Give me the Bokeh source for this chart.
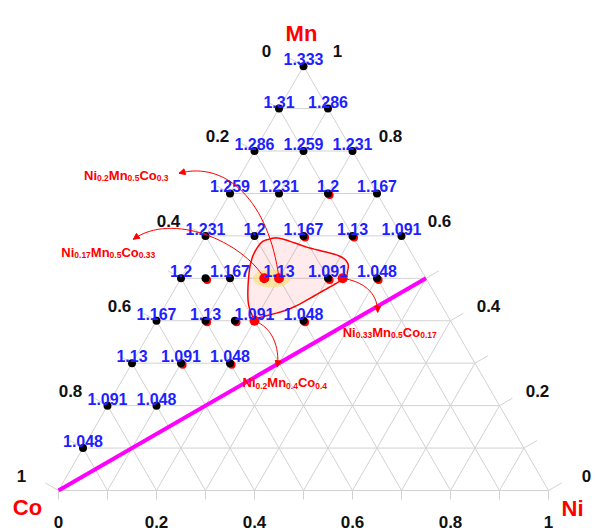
import math
import numpy as np
from bokeh.plotting import figure
from bokeh.models import ColumnDataSource, Arrow, NormalHead, Range1d
from bokeh.embed import file_html
from bokeh.resources import INLINE
from bokeh.core.properties import value

# ---------------- data ----------------
corner_names = ["Co", "Ni", "Mn"]

grid_mn = [1.0,
           0.9, 0.9,
           0.8, 0.8, 0.8,
           0.7, 0.7, 0.7, 0.7,
           0.6, 0.6, 0.6, 0.6, 0.6,
           0.5, 0.5, 0.5, 0.5, 0.5,
           0.4, 0.4, 0.4, 0.4,
           0.3, 0.3, 0.3,
           0.2, 0.2,
           0.1]
grid_ni = [0.0,
           0.0, 0.1,
           0.0, 0.1, 0.2,
           0.0, 0.1, 0.2, 0.3,
           0.0, 0.1, 0.2, 0.3, 0.4,
           0.0, 0.1, 0.2, 0.3, 0.4,
           0.0, 0.1, 0.2, 0.3,
           0.0, 0.1, 0.2,
           0.0, 0.1,
           0.0]
grid_label = ["1.333",
              "1.31", "1.286",
              "1.286", "1.259", "1.231",
              "1.259", "1.231", "1.2", "1.167",
              "1.231", "1.2", "1.167", "1.13", "1.091",
              "1.2", "1.167", "1.13", "1.091", "1.048",
              "1.167", "1.13", "1.091", "1.048",
              "1.13", "1.091", "1.048",
              "1.091", "1.048",
              "1.048"]
grid_made = [0,
             0, 0,
             0, 0, 0,
             0, 0, 1, 0,
             0, 0, 1, 1, 0,
             0, 0, 0, 1, 1,
             0, 1, 0, 1,
             0, 1, 1,
             0, 0,
             0]

extra_mn = [0.5, 0.4]
extra_ni = [0.05, 0.16]

sel_ni = [0.17, 0.2, 0.33, 0.2]
sel_mn = [0.5, 0.5, 0.5, 0.4]
sel_co = [0.33, 0.3, 0.17, 0.4]

line_ni = [0.0, 0.5]
line_mn = [0.0, 0.5]

tick_vals = [0.0, 0.2, 0.4, 0.6, 0.8, 1.0]
tick_text = ["0", "0.2", "0.4", "0.6", "0.8", "1"]

loop_ni = [0.199, 0.167, 0.137, 0.121, 0.121, 0.133, 0.156, 0.222, 0.293,
           0.321, 0.331, 0.332, 0.301, 0.259, 0.208]
loop_mn = [0.403, 0.441, 0.502, 0.549, 0.582, 0.592, 0.594, 0.573, 0.554,
           0.537, 0.518, 0.500, 0.467, 0.429, 0.408]

# ---------------- layout ----------------
S = 490.0            # px per unit side
W, H = 595, 530
X0, Y0 = 58.0, 490.0  # figure px of Co corner
SQ = math.sqrt(3) / 2
FONT = value("Liberation Sans")
GREY = "#d2d2d2"
RED = "#ff0000"
BLUE = "#1f1fff"


def tern(ni, mn):
    ni = np.asarray(ni, float)
    mn = np.asarray(mn, float)
    return ni + mn / 2, mn * SQ


p = figure(width=W, height=H, output_backend="svg", toolbar_location=None,
           x_range=Range1d(-X0 / S, (W - X0) / S),
           y_range=Range1d(-(H - Y0) / S, Y0 / S),
           x_axis_type=None, y_axis_type=None, min_border=0)
p.outline_line_color = None
p.background_fill_color = "white"
p.border_fill_color = "white"

# grid lines (0.1 spacing), three families incl. edges
gx, gy = [], []
for k in range(0, 10):
    t = k / 10
    a = tern([0, 1 - t], [t, t])
    b = tern([t, t], [0, 1 - t])
    c = tern([1 - t, 0], [0, 1 - t])
    for seg in (a, b, c):
        gx.append(list(seg[0]))
        gy.append(list(seg[1]))
p.multi_line(gx, gy, line_color=GREY, line_width=1)

# ticks
tx, ty = [], []
TL = 15 / S
BL = 9 / S
for k in range(0, 11):
    t = k / 10
    bx, by = tern(t, 0)
    tx.append([float(bx), float(bx)]); ty.append([float(by), float(by) - BL])
    lx, ly = tern(0, t)
    tx.append([float(lx), float(lx) - SQ * TL]); ty.append([float(ly), float(ly) + 0.5 * TL])
    rx, ry = tern(1 - t, t)
    tx.append([float(rx), float(rx) + SQ * TL]); ty.append([float(ry), float(ry) + 0.5 * TL])
p.multi_line(tx, ty, line_color=GREY, line_width=1)

# Ni = Mn line
mx, my = tern(line_ni, line_mn)
p.line(mx, my, line_color="#ff00ff", line_width=4)


# highlight loop (closed Catmull-Rom)
def catmull(px, py, n=14):
    px = list(px); py = list(py)
    m = len(px)
    ox, oy = [], []
    for i in range(m):
        p0 = (px[i - 1], py[i - 1]); p1 = (px[i], py[i])
        p2 = (px[(i + 1) % m], py[(i + 1) % m]); p3 = (px[(i + 2) % m], py[(i + 2) % m])
        for j in range(n):
            s = j / n
            s2, s3 = s * s, s * s * s
            for arr, q in ((ox, 0), (oy, 1)):
                arr.append(0.5 * ((2 * p1[q]) + (-p0[q] + p2[q]) * s +
                                  (2 * p0[q] - 5 * p1[q] + 4 * p2[q] - p3[q]) * s2 +
                                  (-p0[q] + 3 * p1[q] - 3 * p2[q] + p3[q]) * s3))
    return ox, oy


lx, ly = tern(loop_ni, loop_mn)
cx, cy = catmull(lx, ly)
p.patch(cx, cy, fill_color=RED, fill_alpha=0.08, line_color=RED, line_width=1.5)

# yellow highlight ellipse around first two selected points
sx, sy = tern(sel_ni, sel_mn)
p.ellipse(x=[(sx[0] + sx[1]) / 2], y=[sy[0]], width=38 / S, height=18 / S,
          fill_color="#f6e27a", fill_alpha=0.65, line_color=None)

# dots
gxp, gyp = tern(grid_ni, grid_mn)
exp_, eyp = tern(extra_ni, extra_mn)
made_x = [float(x) for x, m in zip(gxp, grid_made) if m] + list(map(float, exp_))
made_y = [float(y) for y, m in zip(gyp, grid_made) if m] + list(map(float, eyp))
p.scatter([x + 1.6 / S for x in made_x], [y - 1.6 / S for y in made_y],
          size=8, fill_color=RED, line_color=None)
p.scatter(list(gxp) + list(exp_), list(gyp) + list(eyp), size=8,
          fill_color="black", line_color=None)
p.scatter(sx, sy, size=10, fill_color=RED, line_color=None)

# value labels
lab_src = ColumnDataSource(dict(x=gxp, y=gyp, text=grid_label))
p.text(x="x", y="y", text="text", source=lab_src, x_offset=0, y_offset=-7,
       text_align="center", text_baseline="alphabetic", text_color=BLUE,
       text_font=FONT, text_font_style="bold", text_font_size="16px")

# tick labels
tv = np.asarray(tick_vals)
blx, bly = tern(tv, 0 * tv)
p.text(x=blx, y=bly, text=tick_text, x_offset=0, y_offset=31,
       text_align="center", text_baseline="alphabetic", text_color="#111111",
       text_font=FONT, text_font_style="bold", text_font_size="17px")
llx, lly = tern(0 * tv, 1 - tv)   # left side: Co fraction
p.text(x=llx, y=lly, text=tick_text, x_offset=-37, y_offset=-15,
       text_align="center", text_baseline="alphabetic", text_color="#111111",
       text_font=FONT, text_font_style="bold", text_font_size="17px")
rlx, rly = tern(1 - tv, tv)       # right side: Mn fraction
p.text(x=rlx, y=rly, text=tick_text, x_offset=[38, 38, 38, 38, 38, 34], y_offset=-15,
       text_align="center", text_baseline="alphabetic", text_color="#111111",
       text_font=FONT, text_font_style="bold", text_font_size="17px")

# corner labels
cnx, cny = tern([0, 1, 0], [0, 0, 1])
p.text(x=cnx, y=cny, text=corner_names, x_offset=[-31, 24, -2], y_offset=[17, 18, -33],
       text_align="center", text_baseline="alphabetic", text_color=RED,
       text_font=FONT, text_font_style="bold", text_font_size="22px")

# composition annotations with subscripts
ADV = {'N': 722, 'i': 278, 'M': 833, 'n': 611, 'C': 722, 'o': 611, '.': 278}
for d in "0123456789":
    ADV[d] = 556


def tw(s, size):
    return sum(ADV[c] for c in s) * size / 1000.0


MAIN, SUB = 13, 8.5
anchors = [(-203, -26), (-195, -103), (0, 54), (-12, 62)]
main_rows = dict(x=[], y=[], text=[], xo=[], yo=[])
sub_rows = dict(x=[], y=[], text=[], xo=[], yo=[])
for i in range(len(sel_ni)):
    ax, ay = anchors[i]
    cur = ax
    for el, v in (("Ni", sel_ni[i]), ("Mn", sel_mn[i]), ("Co", sel_co[i])):
        main_rows["x"].append(float(sx[i])); main_rows["y"].append(float(sy[i]))
        main_rows["text"].append(el); main_rows["xo"].append(cur); main_rows["yo"].append(ay)
        cur += tw(el, MAIN)
        sv = f"{v:g}"
        sub_rows["x"].append(float(sx[i])); sub_rows["y"].append(float(sy[i]))
        sub_rows["text"].append(sv); sub_rows["xo"].append(cur); sub_rows["yo"].append(ay + 3)
        cur += tw(sv, SUB)
p.text(x="x", y="y", text="text", x_offset="xo", y_offset="yo",
       source=ColumnDataSource(main_rows), text_align="left", text_baseline="alphabetic",
       text_color=RED, text_font=FONT, text_font_style="bold", text_font_size=f"{MAIN}px")
p.text(x="x", y="y", text="text", x_offset="xo", y_offset="yo",
       source=ColumnDataSource(sub_rows), text_align="left", text_baseline="alphabetic",
       text_color=RED, text_font=FONT, text_font_style="bold", text_font_size=f"{SUB}px")

# curved arrows (screen-px offsets from each red point: c0, c1, end)
arrow_geo = [((-22, -37), (-92, -67), (-131, -39)),
             ((-10, -77), (-53, -118), (-100, -105)),
             ((19, 3), (35, 13), (35, 34)),
             ((18, 7), (25, 26), (23, 46))]
bz = dict(x0=[], y0=[], x1=[], y1=[], cx0=[], cy0=[], cx1=[], cy1=[])
ar = dict(xs=[], ys=[], xe=[], ye=[])
for i, (c0, c1, e) in enumerate(arrow_geo):
    x0, y0 = float(sx[i]), float(sy[i])
    bz["x0"].append(x0); bz["y0"].append(y0)
    bz["cx0"].append(x0 + c0[0] / S); bz["cy0"].append(y0 - c0[1] / S)
    bz["cx1"].append(x0 + c1[0] / S); bz["cy1"].append(y0 - c1[1] / S)
    bz["x1"].append(x0 + e[0] / S); bz["y1"].append(y0 - e[1] / S)
    dx, dy = e[0] - c1[0], e[1] - c1[1]
    L = math.hypot(dx, dy)
    ar["xe"].append(x0 + e[0] / S); ar["ye"].append(y0 - e[1] / S)
    ar["xs"].append(x0 + (e[0] - 3 * dx / L) / S); ar["ys"].append(y0 - (e[1] - 3 * dy / L) / S)
p.bezier(x0="x0", y0="y0", x1="x1", y1="y1", cx0="cx0", cy0="cy0", cx1="cx1", cy1="cy1",
         source=ColumnDataSource(bz), line_color=RED, line_width=1)
p.add_layout(Arrow(end=NormalHead(size=6, fill_color=RED, line_color=RED, line_width=1),
                   x_start="xs", y_start="ys", x_end="xe", y_end="ye",
                   source=ColumnDataSource(ar), line_color=RED, line_width=1))

open("out.html", "w").write(file_html(p, INLINE))
